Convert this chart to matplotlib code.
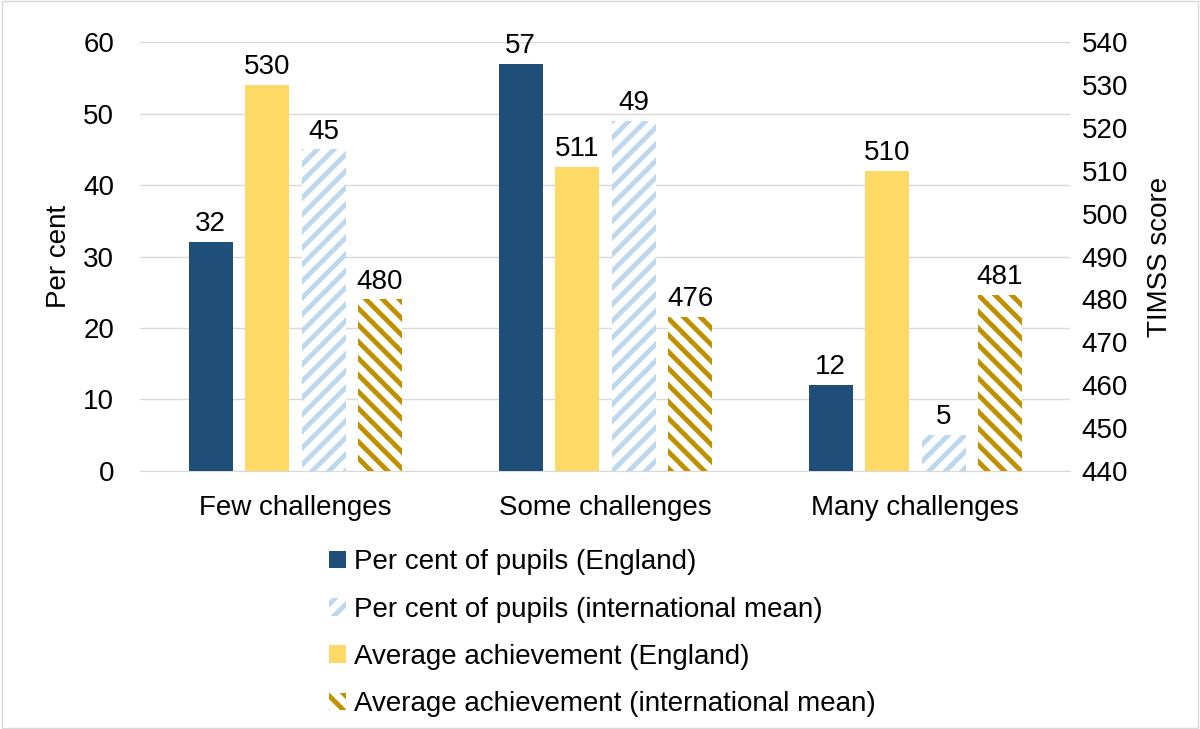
import matplotlib.pyplot as plt
from matplotlib.patches import Patch
import numpy as np

plt.rcParams['font.family'] = ['Liberation Sans', 'DejaVu Sans']
plt.rcParams['hatch.linewidth'] = 3.5

categories = ['Few challenges', 'Some challenges', 'Many challenges']
pct_england = [32, 57, 12]
pct_intl = [45, 49, 5]
score_england = [530, 511, 510]
score_intl = [480, 476, 481]

legend_labels = ['Per cent of pupils (England)',
                 'Per cent of pupils (international mean)',
                 'Average achievement (England)',
                 'Average achievement (international mean)']

c_navy = '#1F4E79'
c_yellow = '#FFD966'
c_lightblue = '#BDD7EE'
c_gold = '#BF9000'
fs = 20

fig = plt.figure(figsize=(12, 7.29), dpi=100)
ax1 = fig.add_axes([0.117, 0.354, 0.775, 0.588])
ax2 = ax1.twinx()

x = np.arange(len(categories))
w = 0.142
step = 0.182
offs = [-1.5 * step, -0.5 * step, 0.5 * step, 1.5 * step]

b1 = ax1.bar(x + offs[0], pct_england, w, color=c_navy, zorder=3)
b3 = ax1.bar(x + offs[2], pct_intl, w, facecolor='white', edgecolor=c_lightblue,
             hatch='//', linewidth=0, zorder=3)
b2 = ax2.bar(x + offs[1], score_england, w, color=c_yellow, zorder=3)
b4 = ax2.bar(x + offs[3], score_intl, w, facecolor='white', edgecolor=c_gold,
             hatch='\\\\', linewidth=0, zorder=3)

ax1.set_ylim(0, 60)
ax2.set_ylim(440, 540)
ax1.set_yticks(np.arange(0, 61, 10))
ax2.set_yticks(np.arange(440, 541, 10))
ax1.set_xlim(-0.5, 2.5)
ax1.set_xticks(x)
ax1.set_xticklabels(categories, fontsize=fs)

ax1.grid(axis='y', color='#D9D9D9', linewidth=1, zorder=0)
ax1.set_axisbelow(True)
for ax in (ax1, ax2):
    for s in ax.spines.values():
        s.set_visible(False)
    ax.tick_params(length=0, labelsize=fs, pad=8)
ax1.tick_params(axis='y', pad=19)
ax1.tick_params(axis='x', pad=17)
ax1.spines['bottom'].set_visible(True)
ax1.spines['bottom'].set_color('#D9D9D9')

ax1.set_ylabel('Per cent', fontsize=fs, labelpad=8)
ax2.set_ylabel('TIMSS score', fontsize=fs, labelpad=14)

for bars, vals, ax in [(b1, pct_england, ax1), (b3, pct_intl, ax1),
                       (b2, score_england, ax2), (b4, score_intl, ax2)]:
    for rect, v in zip(bars, vals):
        ax.annotate(str(v), (rect.get_x() + rect.get_width() / 2, v),
                    xytext=(0, 3.5), textcoords='offset points',
                    ha='center', va='bottom', fontsize=fs)

handles = [Patch(facecolor=c_navy),
           Patch(facecolor='white', edgecolor=c_lightblue, hatch='//', linewidth=0),
           Patch(facecolor=c_yellow),
           Patch(facecolor='white', edgecolor=c_gold, hatch='\\\\', linewidth=0)]
fig.legend(handles, legend_labels, loc='upper left', bbox_to_anchor=(0.265, 0.262),
           frameon=False, fontsize=fs, handlelength=0.6, handleheight=0.6,
           handletextpad=0.3, labelspacing=0.77, borderaxespad=0)

fig.patches.append(plt.Rectangle((0.002, 0.002), 0.996, 0.996, transform=fig.transFigure,
                                 fill=False, edgecolor='#D9D9D9', linewidth=1))

fig.savefig('out.png', dpi=100)
